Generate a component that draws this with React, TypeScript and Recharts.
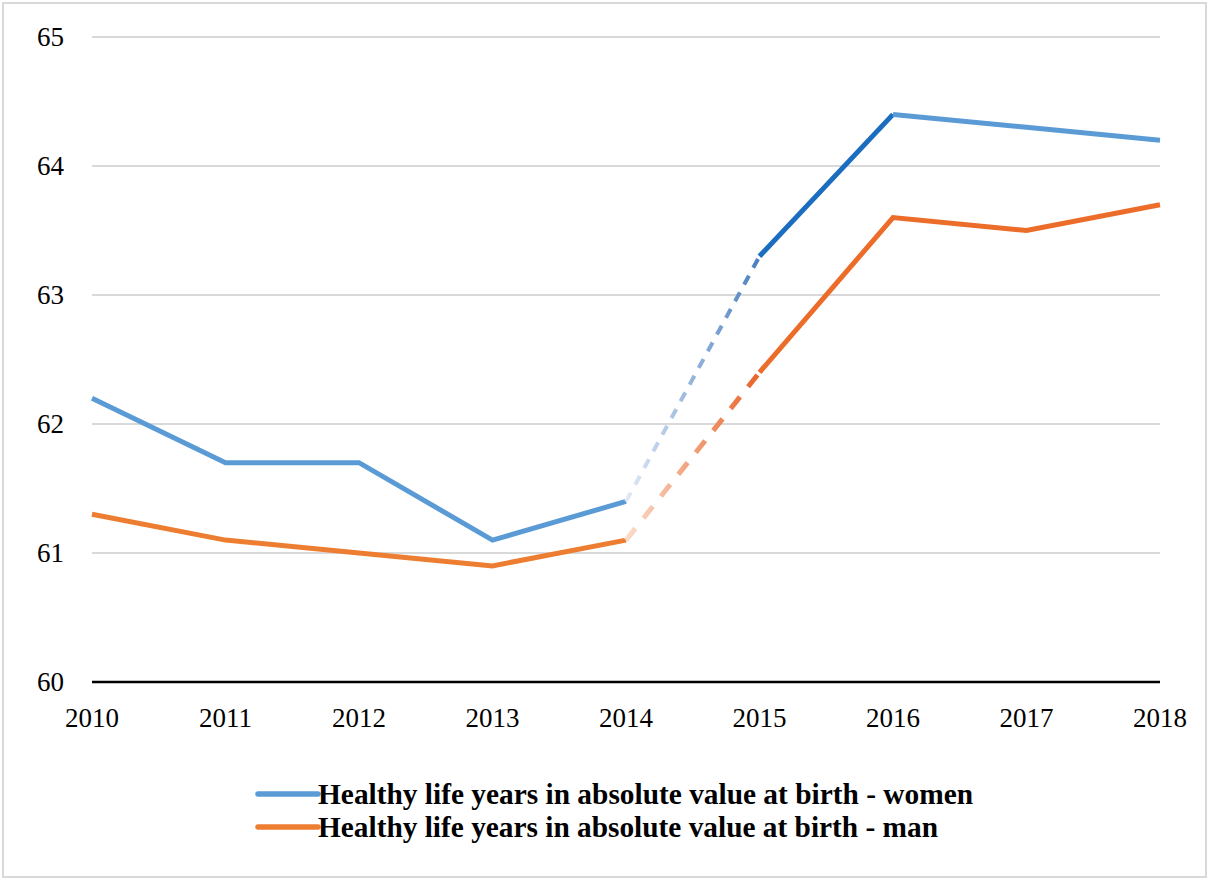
import React from "react";
import { LineChart, Line, XAxis, YAxis, CartesianGrid, Legend } from "recharts";

const years = [2010, 2011, 2012, 2013, 2014, 2015, 2016, 2017, 2018];
const women = [62.2, 61.7, 61.7, 61.1, 61.4, 63.3, 64.4, 64.3, 64.2];
const men = [61.3, 61.1, 61.0, 60.9, 61.1, 62.4, 63.6, 63.5, 63.7];
const yTicks = [60, 61, 62, 63, 64, 65];
const legendLabels = [
  "Healthy life years in absolute value at birth - women",
  "Healthy life years in absolute value at birth - man",
];

const inRange = (i: number, a: number, b: number) => i >= a && i <= b;

const data = years.map((year, i) => ({
  year,
  wA: inRange(i, 0, 4) ? women[i] : null,
  wDash: inRange(i, 4, 5) ? women[i] : null,
  wDark: inRange(i, 5, 6) ? women[i] : null,
  wB: inRange(i, 6, 8) ? women[i] : null,
  mA: inRange(i, 0, 4) ? men[i] : null,
  mDash: inRange(i, 4, 5) ? men[i] : null,
  mB: inRange(i, 5, 8) ? men[i] : null,
}));

const FONT = "'Liberation Serif', 'Times New Roman', serif";

const XTick = (props: any) => {
  const { x, y, payload } = props;
  return (
    <text x={x} y={y + 37} textAnchor="middle" fontFamily={FONT} fontSize={27} fill="#000">
      {payload.value}
    </text>
  );
};

const YTick = (props: any) => {
  const { y, payload } = props;
  return (
    <text x={64} y={y + 9} textAnchor="end" fontFamily={FONT} fontSize={27} fill="#000">
      {payload.value}
    </text>
  );
};

const LegendContent = () => (
  <svg width={760} height={80}>
    <line x1={8} y1={24} x2={68} y2={24} stroke="#5b9bd5" strokeWidth={5.5} strokeLinecap="round" />
    <text x={68} y={34} fontFamily={FONT} fontWeight="bold" fontSize={29} textLength={655} lengthAdjust="spacingAndGlyphs" fill="#000">
      {legendLabels[0]}
    </text>
    <line x1={8} y1={57} x2={68} y2={57} stroke="#ed7d31" strokeWidth={5.5} strokeLinecap="round" />
    <text x={68} y={67} fontFamily={FONT} fontWeight="bold" fontSize={29} textLength={620} lengthAdjust="spacingAndGlyphs" fill="#000">
      {legendLabels[1]}
    </text>
  </svg>
);

export default function App() {
  return (
    <div style={{ position: "absolute", left: 0, top: 0, width: 1208, height: 878, background: "#fff" }}>
      <div
        style={{
          position: "absolute",
          left: 2,
          top: 2,
          width: 1201,
          height: 872,
          border: "2px solid #d9d9d9",
        }}
      />
      <div style={{ position: "absolute", left: 0, top: 0 }}>
        <LineChart width={1208} height={878} data={data} margin={{ top: 37, right: 48, bottom: 86, left: 32 }}>
          <defs>
            <linearGradient id="wGrad" x1="0" y1="0" x2="1" y2="0">
              <stop offset="0%" stopColor="#e1eaf5" />
              <stop offset="100%" stopColor="#4a7fc1" />
            </linearGradient>
            <linearGradient id="mGrad" x1="0" y1="0" x2="1" y2="0">
              <stop offset="0%" stopColor="#fbdcca" />
              <stop offset="100%" stopColor="#e8642a" />
            </linearGradient>
          </defs>
          <CartesianGrid horizontal vertical={false} stroke="#d9d9d9" strokeWidth={2} />
          <XAxis
            dataKey="year"
            type="number"
            domain={[2010, 2018]}
            ticks={years}
            axisLine={{ stroke: "#000", strokeWidth: 2.5 }}
            tickLine={false}
            tick={<XTick />}
            height={30}
            interval={0}
          />
          <YAxis
            domain={[60, 65]}
            ticks={yTicks}
            axisLine={false}
            tickLine={false}
            tick={<YTick />}
            width={60}
            interval={0}
          />
          <Line dataKey="wA" stroke="#5b9bd5" strokeWidth={5} dot={false} isAnimationActive={false} connectNulls={false} />
          <Line dataKey="wDash" stroke="url(#wGrad)" strokeWidth={4} strokeDasharray="10 9" dot={false} isAnimationActive={false} />
          <Line dataKey="wDark" stroke="#1a6dbf" strokeWidth={5} dot={false} isAnimationActive={false} />
          <Line dataKey="wB" stroke="#5b9bd5" strokeWidth={5} dot={false} isAnimationActive={false} />
          <Line dataKey="mA" stroke="#ed7d31" strokeWidth={5} dot={false} isAnimationActive={false} />
          <Line dataKey="mDash" stroke="url(#mGrad)" strokeWidth={5} strokeDasharray="15 13" dot={false} isAnimationActive={false} />
          <Line dataKey="mB" stroke="#ec6c2a" strokeWidth={5} dot={false} isAnimationActive={false} />
          <Legend
            content={<LegendContent />}
            wrapperStyle={{ position: "absolute", left: 250, top: 770, width: 760, height: 80, bottom: "auto" }}
          />
        </LineChart>
      </div>
    </div>
  );
}
